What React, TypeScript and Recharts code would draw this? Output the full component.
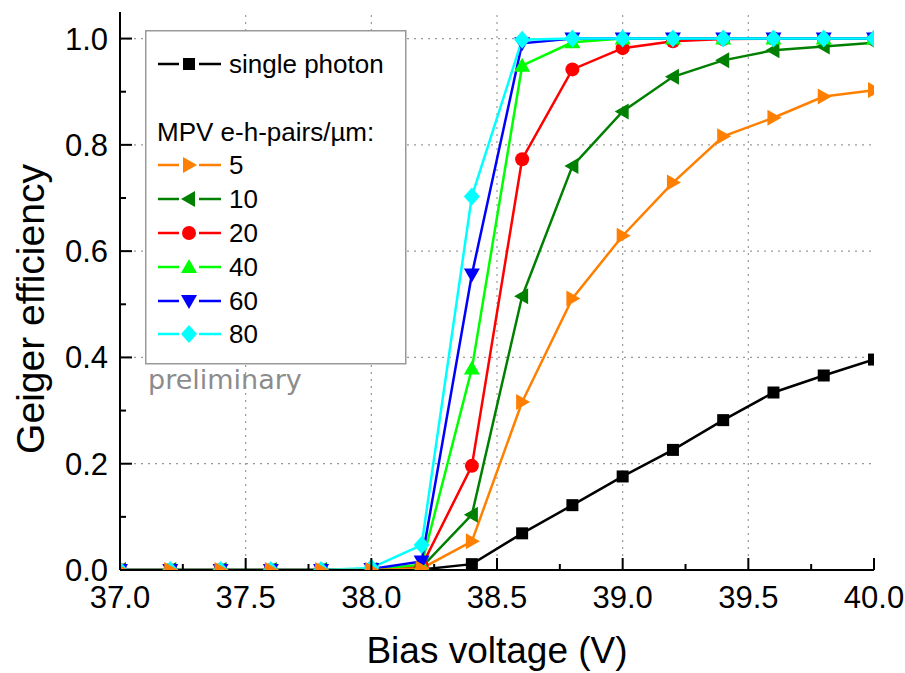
import React from "react";
import { LineChart, Line, XAxis, YAxis, ReferenceLine, Legend } from "recharts";

// bias voltage (V)
const voltage = [37.0, 37.2, 37.4, 37.6, 37.8, 38.0, 38.2, 38.4, 38.6, 38.8, 39.0, 39.2, 39.4, 39.6, 39.8, 40.0];

// Geiger efficiency per series
const singlePhoton = [0, 0, 0, 0, 0, 0, 0.001, 0.011, 0.069, 0.122, 0.176, 0.226, 0.282, 0.334, 0.366, 0.396];
const mpv5 = [0, 0, 0, 0, 0, 0, 0.003, 0.054, 0.316, 0.511, 0.629, 0.729, 0.816, 0.851, 0.891, 0.903];
const mpv10 = [0, 0, 0, 0, 0, 0, 0.005, 0.104, 0.515, 0.76, 0.863, 0.928, 0.959, 0.978, 0.985, 0.992];
const mpv20 = [0, 0, 0, 0, 0, 0, 0.007, 0.196, 0.773, 0.942, 0.982, 0.995, 0.999, 1, 1, 1];
const mpv40 = [0, 0, 0, 0, 0, 0.001, 0.01, 0.379, 0.949, 0.993, 1, 1, 1, 1, 1, 1];
const mpv60 = [0, 0, 0, 0, 0, 0.002, 0.016, 0.556, 0.991, 1, 1, 1, 1, 1, 1, 1];
const mpv80 = [0, 0, 0, 0, 0, 0.004, 0.047, 0.703, 0.998, 1, 1, 1, 1, 1, 1, 1];

// axis ticks (major + minor)
const xTicks = [37, 37.25, 37.5, 37.75, 38, 38.25, 38.5, 38.75, 39, 39.25, 39.5, 39.75, 40];
const yTicks = [0, 0.1, 0.2, 0.3, 0.4, 0.5, 0.6, 0.7, 0.8, 0.9, 1.0];
const xGrid = [37.5, 38, 38.5, 39, 39.5];
const yGrid = [0.2, 0.4, 0.6, 0.8, 1.0];

type Shape = "square" | "right" | "left" | "circle" | "up" | "down" | "diamond";

const series: { key: string; name: string; color: string; shape: Shape }[] = [
  { key: "single", name: "single photon", color: "#000000", shape: "square" },
  { key: "m5", name: "5", color: "#ff8000", shape: "right" },
  { key: "m10", name: "10", color: "#008000", shape: "left" },
  { key: "m20", name: "20", color: "#ff0000", shape: "circle" },
  { key: "m40", name: "40", color: "#00ff00", shape: "up" },
  { key: "m60", name: "60", color: "#0000ff", shape: "down" },
  { key: "m80", name: "80", color: "#00ffff", shape: "diamond" },
];
const drawOrder = ["single", "m10", "m20", "m40", "m60", "m80", "m5"];

const data = voltage.map((v, i) => ({
  v,
  single: singlePhoton[i],
  m5: mpv5[i],
  m10: mpv10[i],
  m20: mpv20[i],
  m40: mpv40[i],
  m60: mpv60[i],
  m80: mpv80[i],
}));

const isMajor = (v: number, step: number) => Math.abs(v / step - Math.round(v / step)) < 1e-6;

function Marker({ cx, cy, shape, color }: { cx: number; cy: number; shape: Shape; color: string }) {
  switch (shape) {
    case "square":
      return <rect x={cx - 6} y={cy - 6} width={12} height={12} fill={color} />;
    case "circle":
      return <circle cx={cx} cy={cy} r={7} fill={color} />;
    case "right":
      return <polygon points={`${cx - 6},${cy - 8} ${cx + 8},${cy} ${cx - 6},${cy + 8}`} fill={color} />;
    case "left":
      return <polygon points={`${cx + 6},${cy - 8} ${cx - 8},${cy} ${cx + 6},${cy + 8}`} fill={color} />;
    case "up":
      return <polygon points={`${cx},${cy - 8} ${cx + 8},${cy + 6} ${cx - 8},${cy + 6}`} fill={color} />;
    case "down":
      return <polygon points={`${cx},${cy + 8} ${cx + 8},${cy - 6} ${cx - 8},${cy - 6}`} fill={color} />;
    default:
      return <polygon points={`${cx},${cy - 9} ${cx + 8},${cy} ${cx},${cy + 9} ${cx - 8},${cy}`} fill={color} />;
  }
}

function BottomTick(props: any) {
  const { x, y, payload } = props;
  const major = isMajor(payload.value, 0.5);
  return (
    <g>
      <line x1={x} x2={x} y1={y} y2={y - (major ? 12 : 6)} stroke="#000" strokeWidth={2} />
      {major && (
        <text x={x} y={y + 38} textAnchor="middle" fontSize={31} fill="#000">
          {payload.value.toFixed(1)}
        </text>
      )}
    </g>
  );
}

function TopTick(props: any) {
  const { x, y, payload } = props;
  const major = isMajor(payload.value, 0.5);
  return <line x1={x} x2={x} y1={y} y2={y + (major ? 12 : 6)} stroke="#000" strokeWidth={2} />;
}

function LeftTick(props: any) {
  const { x, y, payload } = props;
  const major = isMajor(payload.value, 0.2);
  return (
    <g>
      <line x1={x} x2={x + (major ? 12 : 6)} y1={y} y2={y} stroke="#000" strokeWidth={2} />
      {major && (
        <text x={x - 12} y={y + 11} textAnchor="end" fontSize={31} fill="#000">
          {payload.value.toFixed(1)}
        </text>
      )}
    </g>
  );
}

function RightTick(props: any) {
  const { x, y, payload } = props;
  const major = isMajor(payload.value, 0.2);
  return <line x1={x} x2={x - (major ? 12 : 6)} y1={y} y2={y} stroke="#000" strokeWidth={2} />;
}

const renderLegend = () => {
  const rowY = [135, 169, 203, 237, 271, 304];
  const sample = (y: number, s: (typeof series)[number]) => (
    <g key={s.key}>
      <line x1={13} x2={76} y1={y} y2={y} stroke={s.color} strokeWidth={2.5} />
      <line x1={34} x2={54} y1={y} y2={y} stroke="#fff" strokeWidth={4} />
      <Marker cx={44} cy={y} shape={s.shape} color={s.color} />
      <text x={84} y={y + 9} fontSize={26} fill="#000">
        {s.name}
      </text>
    </g>
  );
  return (
    <svg width={264} height={372} style={{ display: "block", overflow: "visible" }}>
      <rect x={0.75} y={0.75} width={260} height={333} fill="#fff" stroke="#999" strokeWidth={1.5} />
      {sample(34, series[0])}
      <text x={12} y={111} fontSize={26} fill="#000">
        MPV e-h-pairs/µm:
      </text>
      {series.slice(1).map((s, i) => sample(rowY[i], s))}
      <text x={3} y={359} fontSize={27} fill="#8c8c8c" fontFamily="DejaVu Sans">
        preliminary
      </text>
    </svg>
  );
};

export default function App() {
  return (
    <div style={{ position: "absolute", left: 0, top: 0, fontFamily: "'Liberation Sans', Arial, sans-serif" }}>
      <LineChart width={905} height={673} data={data} margin={{ top: 12, right: 31, bottom: 0, left: 0 }}>
        <XAxis
          xAxisId="b"
          dataKey="v"
          type="number"
          domain={[37, 40]}
          ticks={xTicks}
          interval={0}
          allowDataOverflow
          height={103}
          tickSize={0}
          tickMargin={0}
          tickLine={false}
          axisLine={{ stroke: "#000", strokeWidth: 2 }}
          tick={<BottomTick />}
          label={(p: any) => (
            <text x={p.viewBox.x + p.viewBox.width / 2} y={p.viewBox.y + 93} textAnchor="middle" fontSize={37} fill="#000">
              Bias voltage (V)
            </text>
          )}
        />
        <XAxis
          xAxisId="t"
          orientation="top"
          type="number"
          domain={[37, 40]}
          ticks={xTicks}
          interval={0}
          allowDataOverflow
          height={0}
          tickSize={0}
          tickMargin={0}
          tickLine={false}
          axisLine={{ stroke: "#000", strokeWidth: 2 }}
          tick={<TopTick />}
        />
        <YAxis
          yAxisId="l"
          type="number"
          domain={[0, 1.05]}
          ticks={yTicks}
          interval={0}
          allowDataOverflow
          width={120}
          tickSize={0}
          tickMargin={0}
          tickLine={false}
          axisLine={{ stroke: "#000", strokeWidth: 2 }}
          tick={<LeftTick />}
          label={(p: any) => (
            <text
              x={0}
              y={0}
              transform={`translate(${p.viewBox.x + 44}, ${p.viewBox.y + p.viewBox.height / 2 + 18}) rotate(-90)`}
              textAnchor="middle"
              fontSize={39}
              fill="#000"
            >
              Geiger efficiency
            </text>
          )}
        />
        <YAxis
          yAxisId="r"
          orientation="right"
          type="number"
          domain={[0, 1.05]}
          ticks={yTicks}
          interval={0}
          allowDataOverflow
          width={0}
          tickSize={0}
          tickMargin={0}
          tickLine={false}
          axisLine={{ stroke: "#000", strokeWidth: 2 }}
          tick={<RightTick />}
        />
        {xGrid.map((v) => (
          <ReferenceLine key={`gx${v}`} xAxisId="b" yAxisId="l" x={v} stroke="#999" strokeWidth={1.2} strokeDasharray="2 5" />
        ))}
        {yGrid.map((v) => (
          <ReferenceLine key={`gy${v}`} xAxisId="b" yAxisId="l" y={v} stroke="#999" strokeWidth={1.2} strokeDasharray="2 5" />
        ))}
        {drawOrder.map((k) => {
          const s = series.find((e) => e.key === k)!;
          return (
            <Line
              key={s.key}
              xAxisId="b"
              yAxisId="l"
              type="linear"
              dataKey={s.key}
              name={s.name}
              stroke={s.color}
              strokeWidth={2.5}
              isAnimationActive={false}
              activeDot={false}
              dot={(p: any) => <Marker key={`${s.key}-${p.index}`} cx={p.cx} cy={p.cy} shape={s.shape} color={s.color} />}
            />
          );
        })}
        <Legend
          layout="vertical"
          align="center"
          verticalAlign="middle"
          content={renderLegend}
          wrapperStyle={{ position: "absolute", left: 145, top: 30, width: 264, height: 372 }}
        />
      </LineChart>
    </div>
  );
}
